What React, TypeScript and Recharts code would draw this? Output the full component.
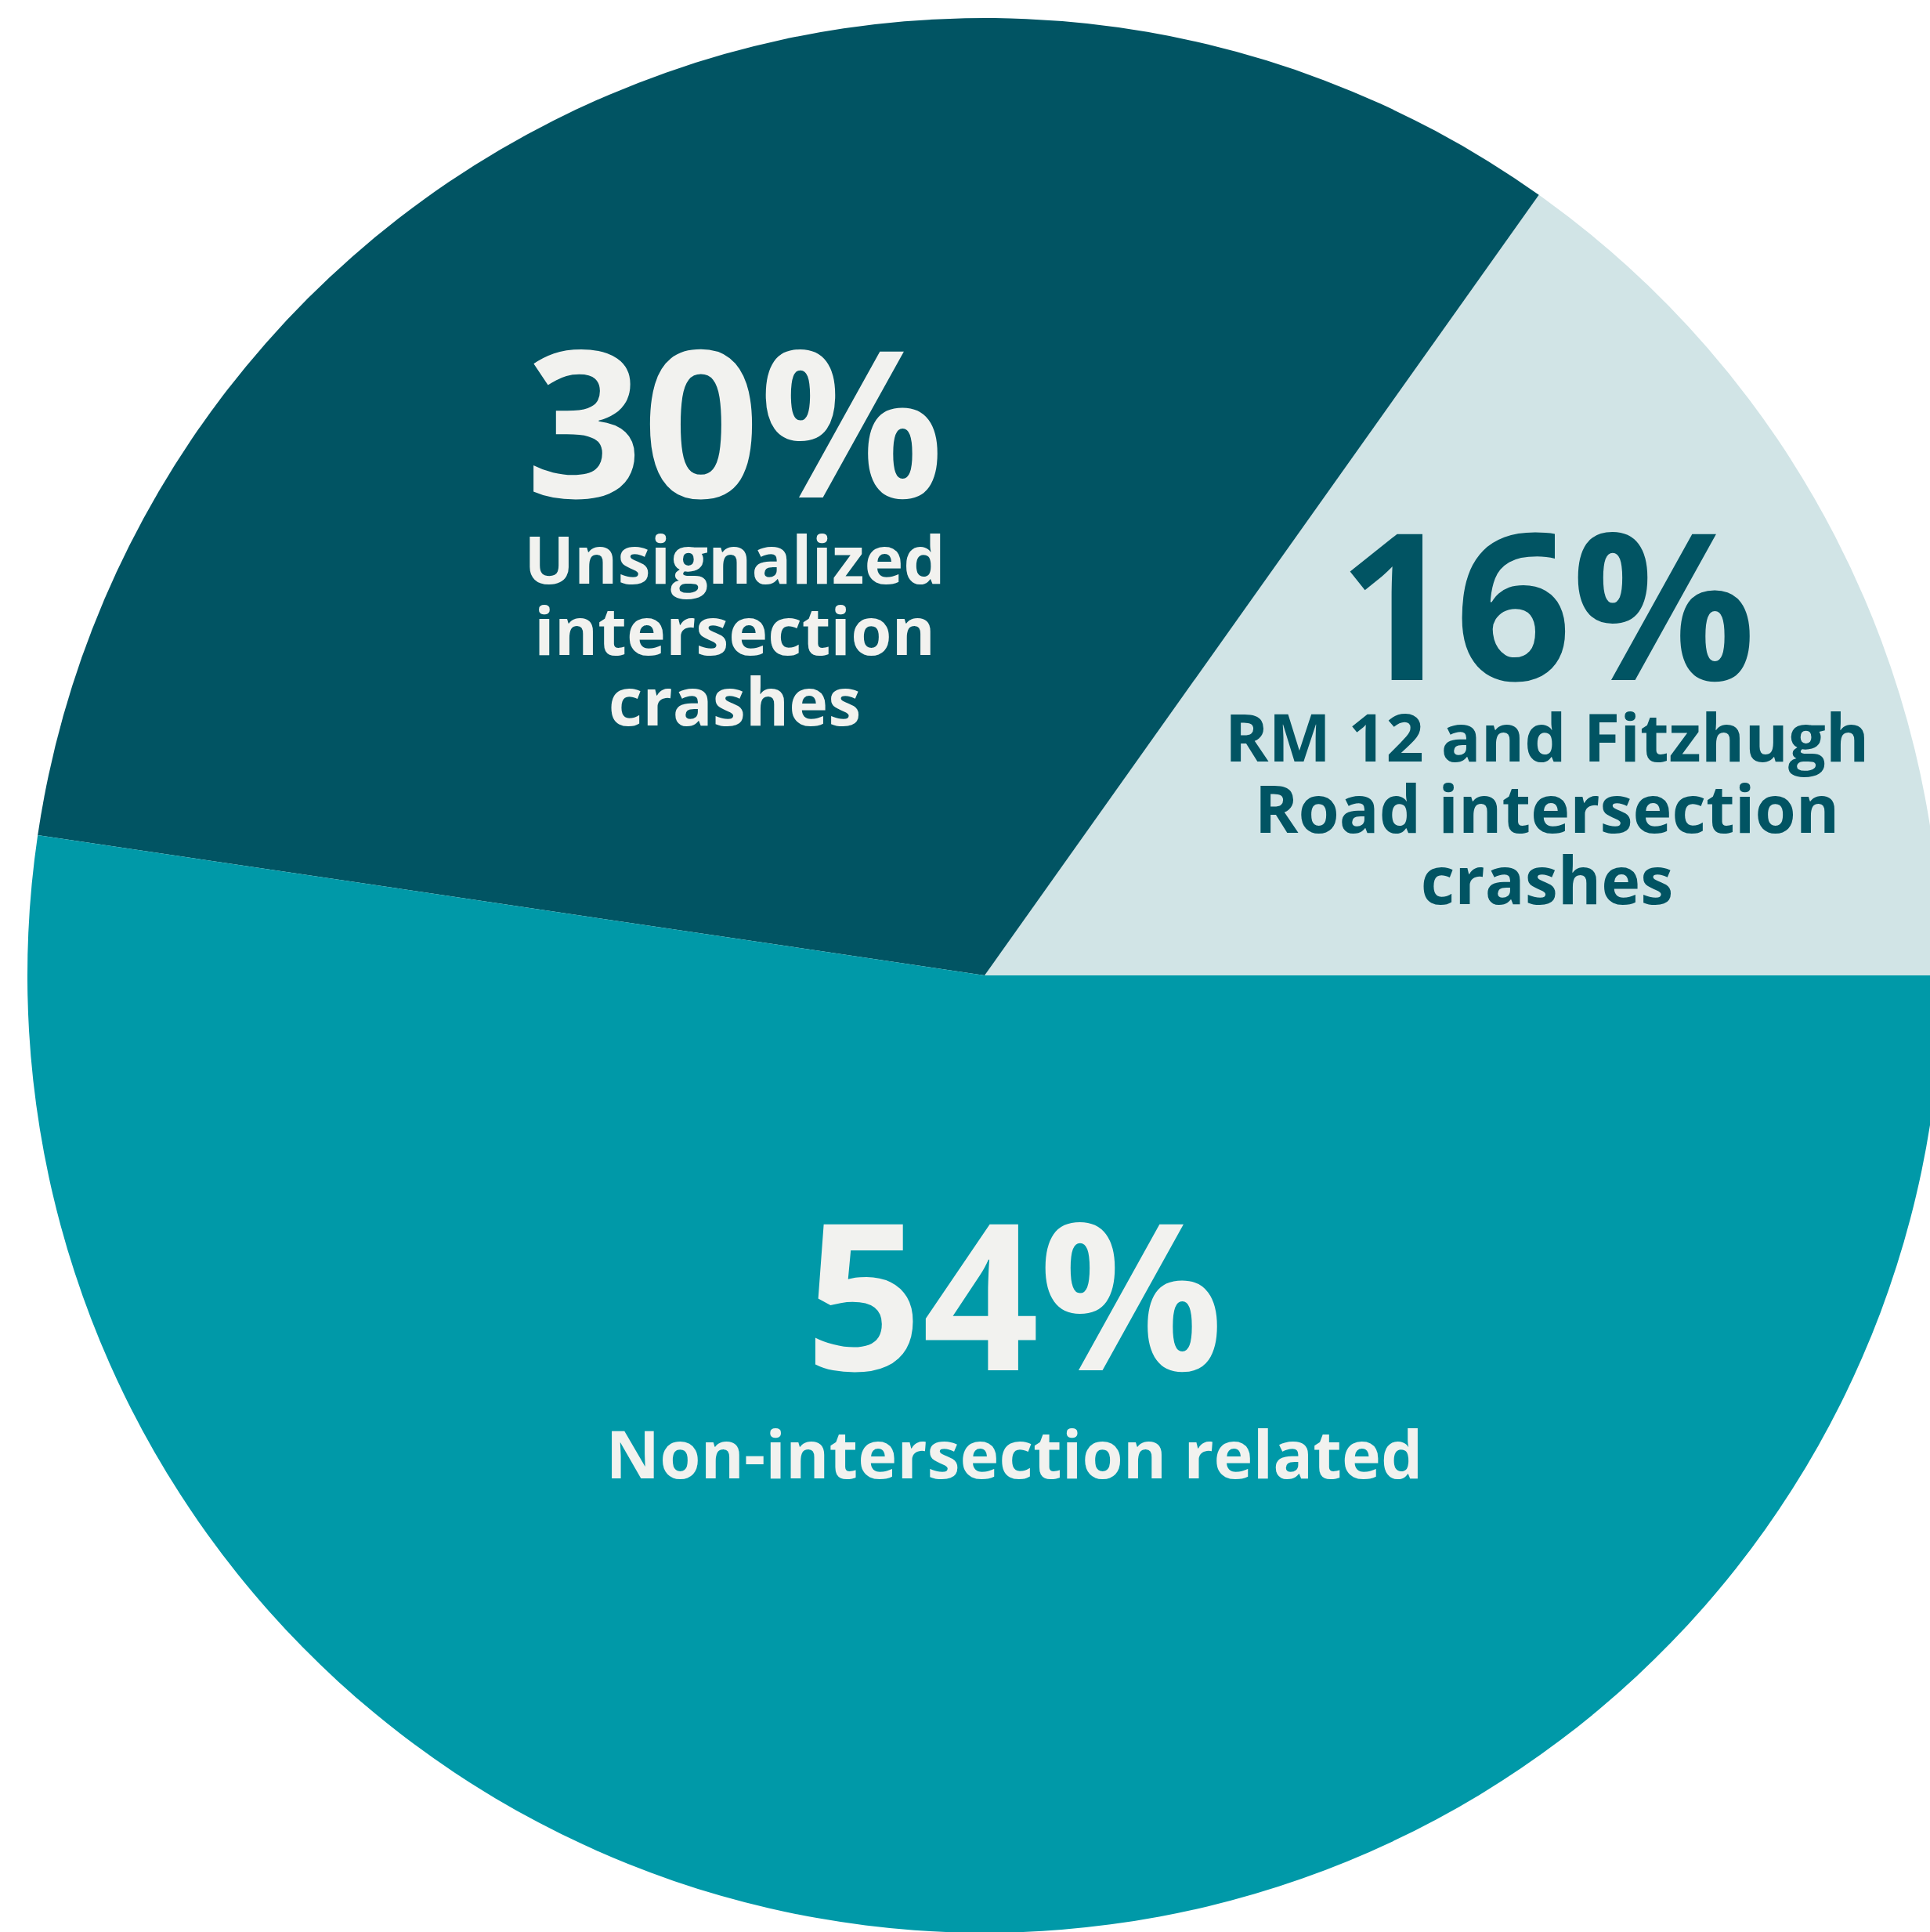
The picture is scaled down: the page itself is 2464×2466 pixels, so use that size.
import React from "react";
import { PieChart, Pie, Cell } from "recharts";

// Slice shares as drawn (angles), in drawing order from 3 o'clock counter-clockwise
const categories = [
  "RM 12 and Fitzhugh Road intersection crashes",
  "Unsignalized intersection crashes",
  "Non-intersection related",
];
const sliceShares = [15.17, 32.49, 52.34];
const percentLabels = ["16%", "30%", "54%"];
const descriptionLines = [
  ["RM 12 and Fitzhugh", "Road intersection", "crashes"],
  ["Unsignalized", "intersection", "crashes"],
  ["Non-intersection related"],
];

const data = categories.map((name, i) => ({ name, value: sliceShares[i] }));

const FILLS = ["#D1E4E6", "#015463", "#0099A8"];
const TEXT_FILLS = ["#015463", "#F2F2EF", "#F2F2EF"];

const W = 2464;
const H = 2466;
const CX = 1257;
const CY = 1245;
const R = 1222;

// label layout: center x, baseline of big number, baseline of first text line, line step
const LAYOUT = [
  { x: 1975, numY: 868, textY: 972, step: 91 },
  { x: 938, numY: 635, textY: 745, step: 90.5 },
  { x: 1295, numY: 1749, textY: 1887, step: 90 },
];

const FONT = "'Open Sans', 'DejaVu Sans', sans-serif";

const Labels = () => (
  <svg
    width={W}
    height={H}
    style={{ position: "absolute", left: 0, top: 0, pointerEvents: "none" }}
  >
    {LAYOUT.map((l, i) => (
      <g key={i}>
        <text
          x={l.x}
          y={l.numY}
          textAnchor="middle"
          fontFamily={FONT}
          fontWeight={700}
          fontSize={261}
          fill={TEXT_FILLS[i]}
        >
          {percentLabels[i]}
        </text>
        {descriptionLines[i].map((line, j) => (
          <text
            key={j}
            x={l.x}
            y={l.textY + j * l.step}
            textAnchor="middle"
            fontFamily={FONT}
            fontWeight={700}
            fontSize={84.5}
            fill={TEXT_FILLS[i]}
          >
            {line}
          </text>
        ))}
      </g>
    ))}
  </svg>
);

export default function App() {
  return (
    <div style={{ position: "absolute", left: 0, top: 0, width: W, height: H, background: "#fff" }}>
      <PieChart width={W} height={H} margin={{ top: 0, right: 0, bottom: 0, left: 0 }}>
        <Pie
          data={data}
          dataKey="value"
          nameKey="name"
          cx={CX}
          cy={CY}
          outerRadius={R}
          innerRadius={0}
          startAngle={0}
          endAngle={360}
          stroke="none"
          isAnimationActive={false}
          label={false}
          labelLine={false}
        >
          {data.map((d, i) => (
            <Cell key={d.name} fill={FILLS[i]} stroke="none" />
          ))}
        </Pie>
      </PieChart>
      <Labels />
    </div>
  );
}
